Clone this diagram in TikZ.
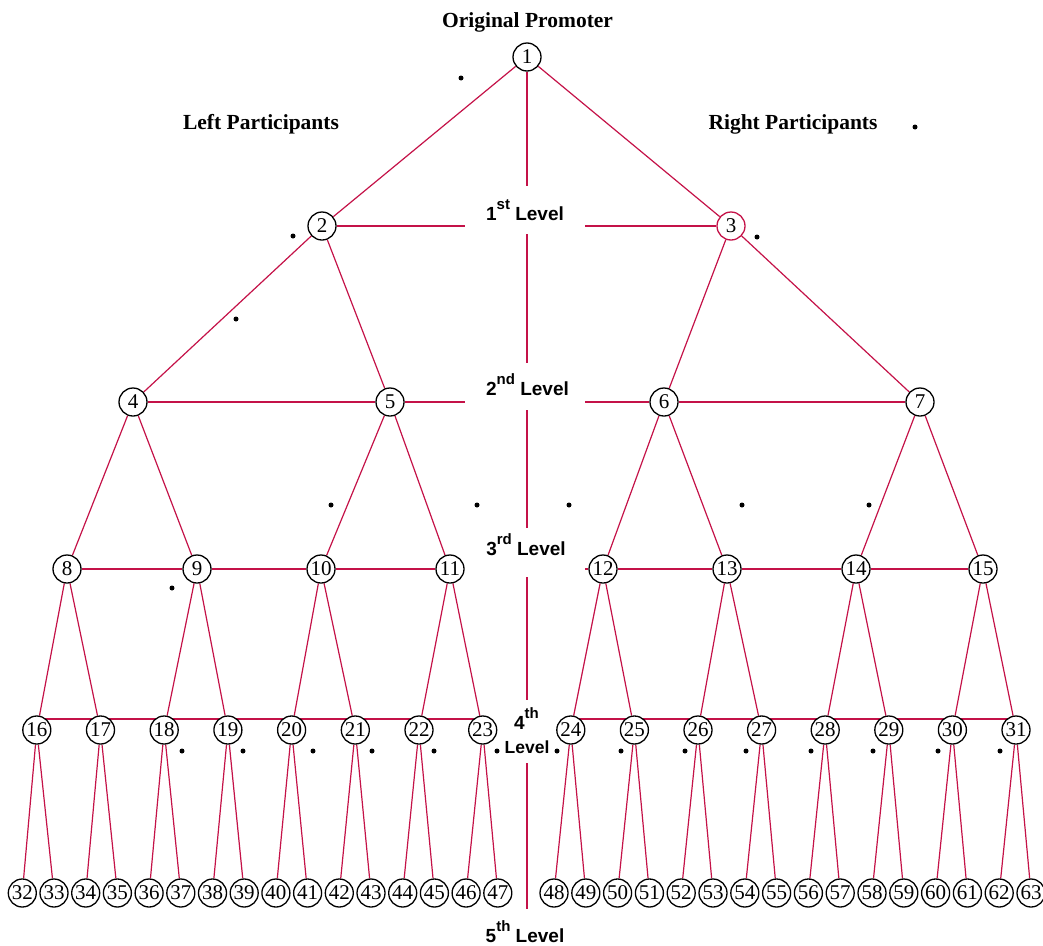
\documentclass[tikz,border=0pt]{standalone}
\usepackage{fontspec}
\setmainfont{Liberation Serif}
\newfontfamily\lvlfont{Liberation Sans}
\usetikzlibrary{backgrounds}
\definecolor{edgecol}{RGB}{196,18,72}
\newcommand{\sups}[1]{\raisebox{10.5pt}{\fontsize{15}{15}\selectfont #1}}
\begin{document}
\begin{tikzpicture}[x=1pt,y=-1pt,
  person/.style={circle,draw=black,line width=1.3pt,fill=white,inner sep=0pt,minimum size=28pt,font=\fontsize{21}{21}\selectfont},
  link/.style={draw=edgecol,line width=1.2pt},
  title/.style={font=\fontsize{21.5}{22}\selectfont\bfseries},
  lvl/.style={font=\fontsize{19}{19}\selectfont\lvlfont\bfseries,inner sep=0pt},
  dotmark/.style={circle,fill=black,inner sep=0pt,minimum size=5pt}]
\useasboundingbox (0,0) rectangle (1043,945);

% titles
\node[title,anchor=base] (tOP) at (527.5,27) {Original Promoter};
\node[title,anchor=base] (tLP) at (261,129) {Left Participants};
\node[title,anchor=base] (tRP) at (793,129) {Right Participants};

% nodes
\node[person] (n1) at (527,57) {1};
\node[person] (n2) at (322,226) {2};
\node[person,draw=edgecol] (n3) at (731,226) {3};
\foreach \i/\x in {4/133,5/390,6/664,7/920}
  \node[person] (n\i) at (\x,402) {\i};
\foreach \i/\x in {8/67,9/197,10/321,11/450,12/603,13/727,14/856,15/983}
  \node[person] (n\i) at (\x,569) {\i};
\foreach \k in {0,...,7}{
  \pgfmathtruncatemacro\na{16+\k}
  \pgfmathtruncatemacro\nb{24+\k}
  \node[person] (n\na) at ({36.8+63.7*\k},730) {\na};
  \node[person] (n\nb) at ({570.8+63.6*\k},730) {\nb};
}
\foreach \k in {0,...,15}{
  \pgfmathtruncatemacro\na{32+\k}
  \pgfmathtruncatemacro\nb{48+\k}
  \node[person] (n\na) at ({22.3+31.7*\k},893) {\na};
  \node[person] (n\nb) at ({554+31.8*\k},893) {\nb};
}

% level labels
\node[lvl,anchor=base] (L1) at (525,220) {1\sups{st} Level};
\node[lvl,anchor=base] (L2) at (527.5,395) {2\sups{nd} Level};
\node[lvl,anchor=base] (L3) at (526,555) {3\sups{rd} Level};
\node[lvl,anchor=base] (L4a) at (526.5,729) {4\sups{th}};
\node[lvl,anchor=base,font=\fontsize{17.5}{17.5}\selectfont\lvlfont\bfseries] (L4b) at (527,753) {Level};
\node[lvl,anchor=base] (L5) at (525,942) {5\sups{th} Level};

% gap coordinates
\foreach \lv/\y in {1/226,2/402,3/569}{
  \coordinate (gL\lv) at (465,\y);
  \coordinate (gR\lv) at (585,\y);
}
\foreach \j/\y in {1/186,2/234,3/363,4/410,5/528,6/577,7/700,8/763,9/909}
  \coordinate (v\j) at (527,\y);

% dots
\foreach \x/\y [count=\c] in {461/78,915/127,293/236,757/237,236/319,331/505,477/505,569/505,742/505,869/505,172/588,
  182/751,243/751,313/751,372/751,434/751,497/751,557/751,621/751,685/751,746/751,811/751,873/751,938/751,1000/751}
  \node[dotmark] (d\c) at (\x,\y) {};

\begin{pgfonlayer}{background}
  % tree edges
  \foreach \p in {1,...,31}{
    \pgfmathtruncatemacro\ca{2*\p}
    \pgfmathtruncatemacro\cb{2*\p+1}
    \draw[link] (n\p) -- (n\ca);
    \draw[link] (n\p) -- (n\cb);
  }
  % central axis
  \draw[link] (n1) -- (v1);
  \draw[link] (v2) -- (v3);
  \draw[link] (v4) -- (v5);
  \draw[link] (v6) -- (v7);
  \draw[link] (v8) -- (v9);
  % level lines
  \draw[link] (n2) -- (gL1);
  \draw[link] (gR1) -- (n3);
  \draw[link] (n4) -- (n5) -- (gL2);
  \draw[link] (gR2) -- (n6) -- (n7);
  \draw[link] (n8) -- (n9) -- (n10) -- (n11);
  \draw[link] (gR3) -- (n12) -- (n13) -- (n14) -- (n15);
  \draw[link] ([yshift=11pt]n16.center) -- ([yshift=11pt]n23.center);
  \draw[link] ([yshift=11pt]n24.center) -- ([yshift=11pt]n31.center);
\end{pgfonlayer}
\end{tikzpicture}
\end{document}
